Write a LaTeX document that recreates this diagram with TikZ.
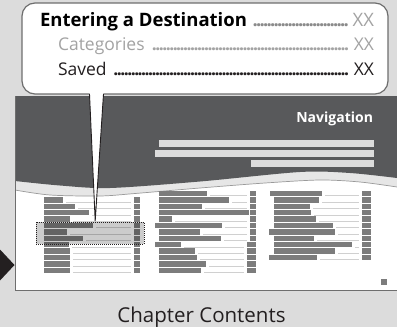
\documentclass[tikz,border=0pt]{standalone}
\usepackage{fontspec}
\setmainfont{Open Sans}
\definecolor{bg}{HTML}{DCDCDC}
\definecolor{band}{HTML}{58595B}
\definecolor{strip}{HTML}{E6E6E6}
\definecolor{barc}{HTML}{7C7C7C}
\definecolor{leadc}{HTML}{D0D0D0}
\definecolor{lgray}{HTML}{A3A3A3}
\definecolor{dgray}{HTML}{8A8A8A}
\definecolor{ink}{HTML}{231F20}
\definecolor{edgec}{HTML}{6E6E6E}
\newcommand\dotlead{\leaders\hbox to 3.5pt{\hss\bfseries.\hss}\hfill}
\tikzset{
  leadline/.style={draw=leadc, line width=0.8pt},
  txt/.style={inner sep=0pt, outer sep=0pt},
}
\begin{document}
\begin{tikzpicture}[x=1pt,y=-1pt]
\useasboundingbox (0,0) rectangle (397,327);
\fill[bg] (0,0) rectangle (397,327);
% page
\fill[white] (15,96) rectangle (397,290);
\fill[strip] (15,170) -- (397,170) -- plot[smooth] coordinates {(397,187) (360,182) (320,180) (265,183) (200,188) (135,193.5) (100,196) (50,195) (15,190)} -- cycle;
\draw[edgec!70, line width=0.7pt] plot[smooth] coordinates {(15,190) (50,195) (100,196) (135,193.5) (200,188) (265,183) (320,180) (360,182) (397,187)};
\fill[band] (397,96) -- (15,96) -- plot[smooth] coordinates {(15,181) (60,185.5) (110,188) (200,181.5) (300,172) (350,173) (397,178)} -- cycle;
\draw[edgec, line width=1.2pt] (15.6,96) -- (15.6,290.4) -- (397,290.4);
% light bars in band
\fill[bg] (159,140) rectangle (374,147);
\fill[bg] (155,150) rectangle (374,157);
\fill[bg] (251,160) rectangle (374,167);
% column 1
\foreach \r/\b in {1/63,2/75,3/89,4/70,5/93,6/67,7/83,8/69,9/70,10/70,11/70,12/70}{
  \draw[leadline] ({\b+3},{195.8+6.4*\r}) -- (131,{195.8+6.4*\r});
  \fill[barc] (44,{190.8+6.4*\r}) rectangle (\b,{196.2+6.4*\r});
  \fill[barc] (134,{190.8+6.4*\r}) rectangle (140,{196.2+6.4*\r});
}
% column 2
\foreach \r/\a/\b/\s in {0/159/207/250,1/159/229/250,2/159/202/250,3/159/249/250,4/159/172/250,5/155/222/250,6/159/200/250,7/159/221/250,8/155/181/247,9/159/195/247,10/159/197/247,11/159/206/247,12/159/201/247}{
  \pgfmathtruncatemacro\ok{\b<\s-8}
  \ifnum\ok=1 \draw[leadline] ({\b+3},{195.8+6.4*\r}) -- ({\s-3},{195.8+6.4*\r});\fi
  \fill[barc] (\a,{190.8+6.4*\r}) rectangle (\b,{196.2+6.4*\r});
  \fill[barc] (\s,{190.8+6.4*\r}) rectangle (256,{196.2+6.4*\r});
}
% column 3
\foreach \r/\a/\b in {0/270/322,1/274/319,2/274/310,3/274/311,4/274/316,5/274/333,6/269/335,7/274/314,8/274/352,9/274/335,10/269/317}{
  \draw[leadline] ({\b+3},{195.8+6.4*\r}) -- (359,{195.8+6.4*\r});
  \fill[barc] (\a,{190.8+6.4*\r}) rectangle (\b,{196.2+6.4*\r});
  \fill[barc] (362,{190.8+6.4*\r}) rectangle (371,{196.2+6.4*\r});
}
\fill[barc] (381,279) rectangle (387,285);
% highlight box
\fill[black, opacity=0.2] (36,222) rectangle (144,244);
\draw[ink, line width=1pt, dash pattern=on 1pt off 1pt] (36,222) rectangle (144,244);
% bubble
\draw[fill=white, draw=edgec, line width=1.2pt, rounded corners=13pt] (22,3) rectangle (388,94);
\fill[white] (89.5,92) -- (95.2,221) -- (103.5,92) -- cycle;
\draw[ink, line width=0.9pt] (89.5,94) -- (95.2,221) -- (103.5,94);
% texts
\node[txt, anchor=base west] (t1) at (40,26) {\fontsize{18.5}{20}\selectfont\hbox to 334pt{\bfseries Entering a Destination\ {\mdseries\color{dgray}\dotlead\,\color{lgray}XX}}};
\node[txt, anchor=base west] (t2) at (58,50) {\fontsize{17.5}{20}\selectfont\color{lgray}\hbox to 316pt{Categories \dotlead\,XX}};
\node[txt, anchor=base west] (t3) at (58,75) {\fontsize{17.5}{20}\selectfont\color{ink}\hbox to 316pt{Saved \dotlead\,XX}};
\node[txt, anchor=base east, text=white, font=\bfseries\fontsize{14}{16}\selectfont] (nav) at (373,122) {Navigation};
\node[txt, anchor=base, text=ink, font=\fontsize{20.5}{24}\selectfont] (cc) at (201.5,322) {Chapter Contents};
% arrow
\fill[ink] (0,249.5) -- (14.5,265) -- (0,280.5) -- cycle;
\end{tikzpicture}
\end{document}
